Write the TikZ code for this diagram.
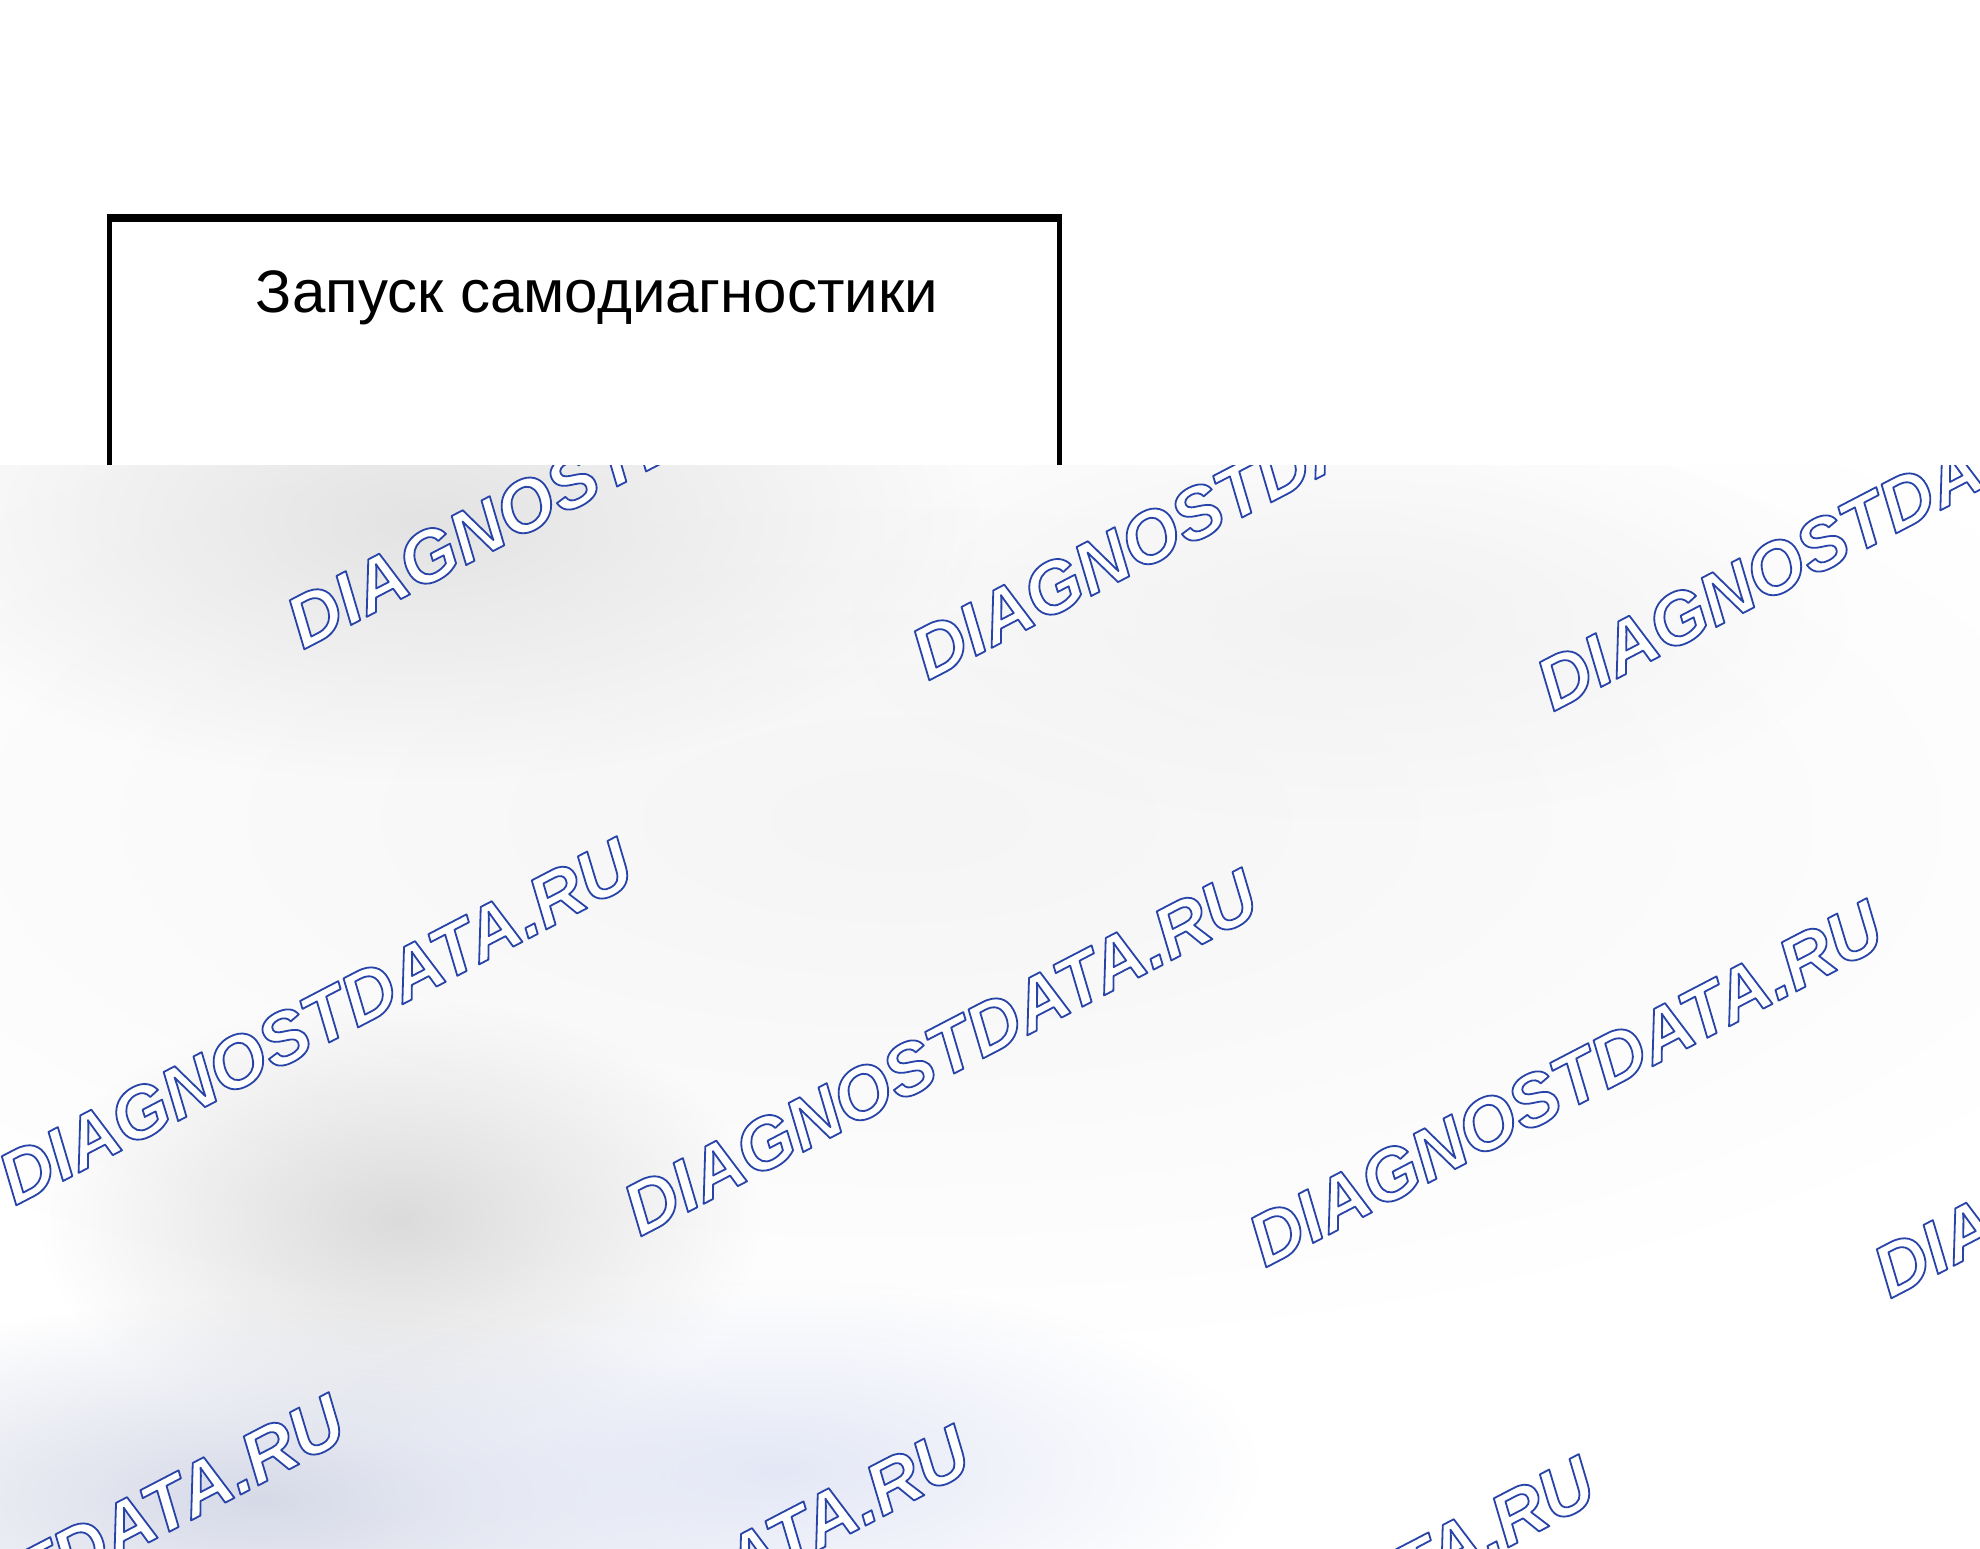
\documentclass[tikz,border=0pt]{standalone}
\usepackage{fontspec}
\setmainfont{Liberation Sans}
\usetikzlibrary{fadings}
\definecolor{wmblue}{RGB}{40,68,168}
\definecolor{blgray}{RGB}{214,218,232}
\definecolor{bllight}{RGB}{228,232,246}
\tikzfading[name=blob, inner color=transparent!0, outer color=transparent!100]
\newcommand{\wmoutline}[1]{{\color{white}\special{pdf:literal direct 0.157 0.267 0.659 RG 1.8 w 1 j 2 Tr}#1\special{pdf:literal direct 0 Tr}}}
\tikzset{
  boxstyle/.style={draw=black, line width=4.5pt, inner sep=0pt, anchor=north west},
  titlestyle/.style={font=\fontsize{60}{72}\selectfont, anchor=base, inner sep=0pt},
  wm/.style={anchor=base west, rotate=27.5, inner sep=0pt,
    font=\fontsize{73}{85}\selectfont\bfseries\itshape},
}
\begin{document}
\begin{tikzpicture}[x=1pt,y=-1pt]
\useasboundingbox (0,0) rectangle (1980,1548);
\fill[white] (0,0) rectangle (1980,1548);
% box
\node[boxstyle, minimum width=950pt, minimum height=600pt] (box) at (107,217) {};
\draw[line width=7pt] (box.north west) -- (box.north east);
\node[titlestyle] (title) at (597,312) {Запуск самодиагностики};
% overlay
\begin{scope}
\clip (0,465) rectangle (1980,1548);
\fill[white] (0,465) rectangle (1980,1548);
\fill[black!4, path fading=blob] (900,820) ellipse [x radius=1300, y radius=520];
\fill[black!11, path fading=blob] (420,520) ellipse [x radius=560, y radius=260];
\fill[black!5, path fading=blob] (1350,620) ellipse [x radius=500, y radius=200];
\fill[black!14, path fading=blob] (400,1220) ellipse [x radius=360, y radius=220];
\fill[blgray, path fading=blob] (260,1500) ellipse [x radius=560, y radius=200];
\fill[bllight, path fading=blob] (780,1470) ellipse [x radius=480, y radius=190];
\foreach \i/\j in {0/0,1/0,2/0,0/1,1/1,2/1,3/1,0/2,1/2,2/2,3/2}{
  \node[wm] (wm-\i-\j) at ({303+625*\i-288*\j},{650+31*\i+556*\j}) {\wmoutline{DIAGNOSTDATA.RU}};
}
\end{scope}
\end{tikzpicture}
\end{document}
